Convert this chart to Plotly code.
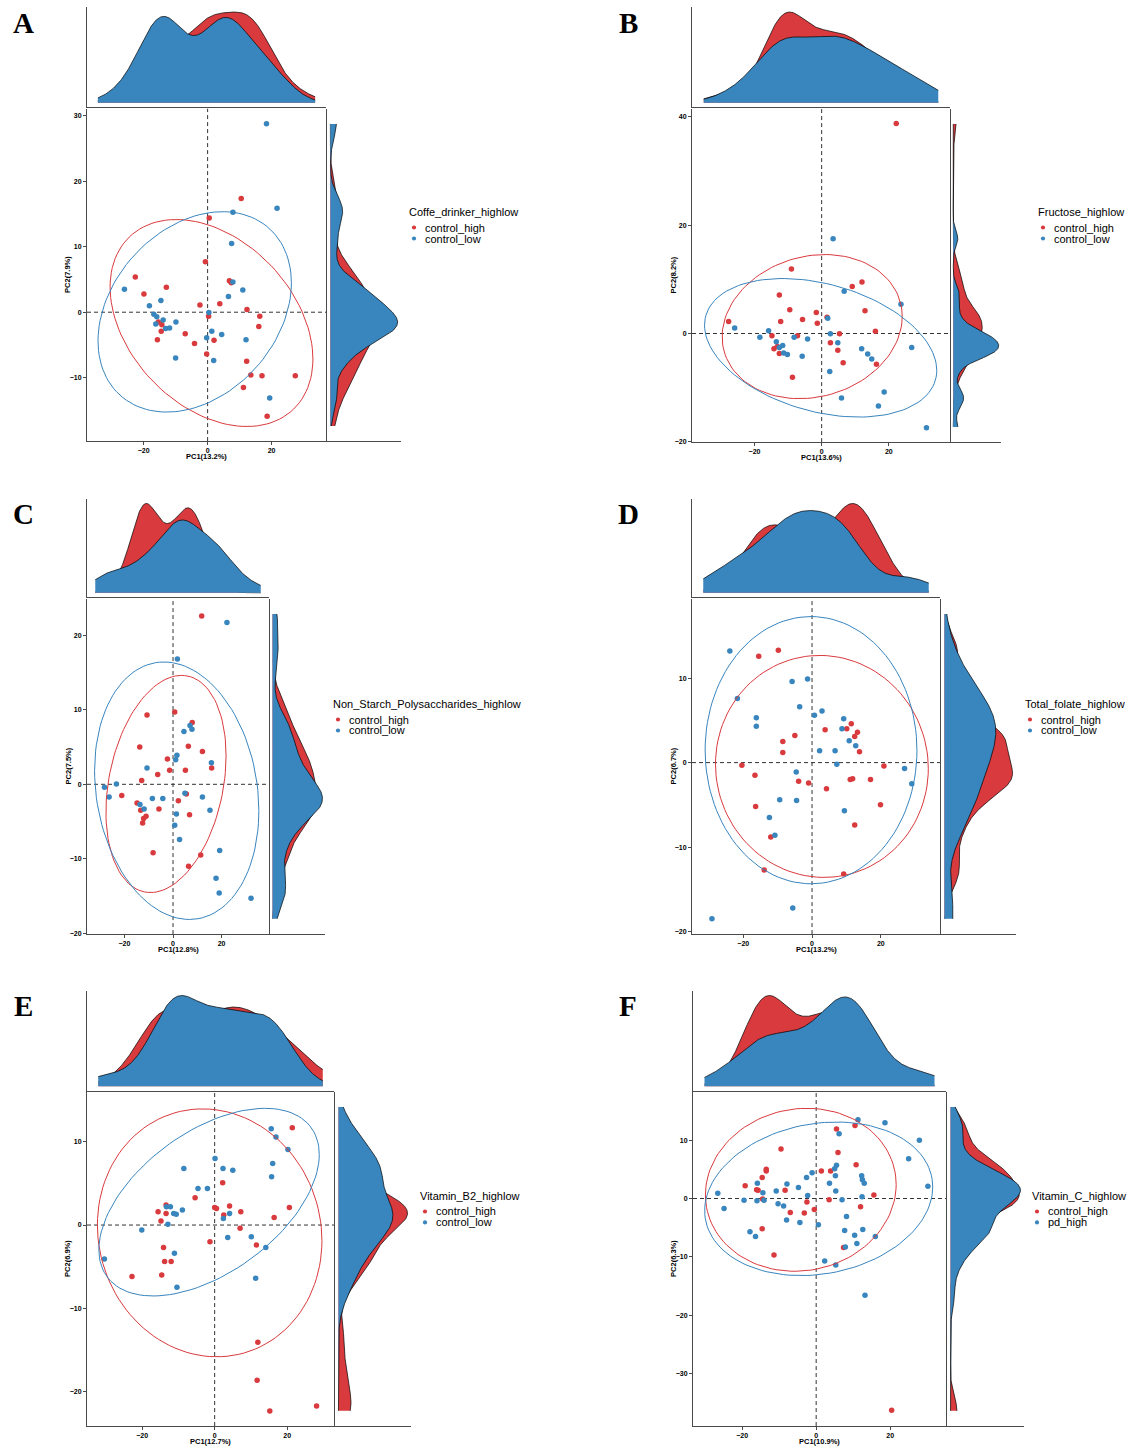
import numpy as np
import plotly.graph_objects as go

FIG_W, FIG_H = 1130, 1450
FONT = "Liberation Sans"
RED = "#D93A3D"
BLUE = "#3985BD"
AXIS_COLOR = "#4a4a4a"

# ---------------- Panel A ----------------
a_title = "Coffe_drinker_highlow"
a_groups = ["control_high", "control_low"]
a_xlabel = "PC1(13.2%)"
a_ylabel = "PC2(7.9%)"
a_xticks = [-20, 0, 20]
a_yticks = [-10, 0, 10, 20, 30]
a_g1_pc1 = [10.5, 0.5, -0.7, -22.6, -19.9, -12.9, 6.8, 7.4, -2.4, 3.8, 12.3, 16.3, 0.3, -15.4,
            -14.3, -14.5, -15.7, -7.0, -4.1, 2.0, 16.0, -0.3, 12.2, 13.5, 17.0, 27.4, 11.2, 18.6]
a_g1_pc2 = [17.4, 14.4, 7.7, 5.4, 2.8, 3.8, 4.8, 4.5, 1.1, 1.3, 0.4, -0.6, -0.6, -1.5,
            -1.9, -2.9, -4.2, -3.3, -4.8, -4.3, -2.2, -6.4, -7.5, -9.6, -9.7, -9.7, -11.5, -15.9]
a_g2_pc1 = [18.4, 21.7, 7.9, 7.5, 7.9, 11.0, 6.5, -26.0, -14.6, -18.2, -16.8, -15.9, -13.9,
            -16.2, -13.1, -11.9, -9.9, 0.4, 1.3, 4.4, -0.3, 12.0, -10.0, 1.9, 19.4]
a_g2_pc2 = [28.8, 15.9, 15.3, 10.5, 4.6, 3.4, 2.4, 3.5, 1.8, 1.0, -0.3, -0.7, -1.2,
            -1.8, -2.5, -2.4, -1.5, -0.05, -2.9, -3.4, -3.9, -4.2, -7.0, -7.4, -13.1]

# ---------------- Panel B ----------------
b_title = "Fructose_highlow"
b_groups = ["control_high", "control_low"]
b_xlabel = "PC1(13.6%)"
b_ylabel = "PC2(8.2%)"
b_xticks = [-20, 0, 20]
b_yticks = [-20, 0, 20, 40]
b_g1_pc1 = [22.2, -9.0, 9.1, 12.0, -12.6, -9.5, 12.9, -1.6, 1.6, -5.7, -1.3, -27.7, -12.2,
            16.0, 5.3, -14.8, -7.2, 2.6, -13.2, -14.2, -12.6, 4.8, 6.4, 16.3, -8.7]
b_g1_pc2 = [38.8, 11.9, 8.7, 9.5, 7.1, 4.4, 4.2, 3.9, 3.0, 2.6, 1.9, 2.2, 2.2,
            0.4, -0.06, -0.4, -0.4, -1.7, -2.4, -2.8, -3.7, -3.1, -5.4, -5.7, -8.1]
b_g2_pc1 = [3.4, 6.7, 23.6, 1.8, -25.9, -15.8, -18.4, -8.2, -4.2, 2.6, -13.5, -11.6, -12.6,
            -11.3, -10.2, 4.8, -5.8, 11.9, 13.7, 14.9, 26.8, 2.4, 18.6, 5.9, 16.9, 31.2]
b_g2_pc2 = [17.5, 7.8, 5.4, 2.8, 1.0, 0.5, -0.7, -0.7, -1.0, -0.06, -1.5, -2.2, -2.6,
            -3.6, -3.9, -1.7, -4.2, -2.8, -3.8, -4.7, -2.6, -7.0, -10.8, -11.9, -13.4, -17.4]

# ---------------- Panel C ----------------
c_title = "Non_Starch_Polysaccharides_highlow"
c_groups = ["control_high", "control_low"]
c_xlabel = "PC1(12.8%)"
c_ylabel = "PC2(7.5%)"
c_xticks = [-20, 0, 20]
c_yticks = [-20, -10, 0, 10, 20]
c_g1_pc1 = [11.8, -10.7, 0.7, 7.9, -13.7, 6.3, 12.1, -2.3, -1.4, 5.1, -6.3, 15.9, -12.9,
            -21.1, 5.5, -14.8, 2.2, -13.3, -5.8, -11.1, -12.1, -12.5, 6.8, -8.2, 11.4, 6.4]
c_g1_pc2 = [22.6, 9.3, 9.7, 8.3, 5.0, 5.1, 4.4, 3.4, 1.9, 1.9, 1.3, 2.2, 0.5,
            -1.5, -1.3, -2.5, -2.2, -3.5, -3.3, -4.3, -4.6, -5.2, -4.1, -9.2, -9.5, -11.0]
c_g2_pc1 = [22.2, 1.8, 7.0, 4.5, 7.8, 1.6, 1.1, -10.7, 15.8, -23.3, -28.2, -26.3, -8.5,
            -4.2, 4.9, 12.1, -13.6, -11.9, 1.4, 15.2, 0.7, 2.7, 19.2, 17.7, 19.0, 32.1]
c_g2_pc2 = [21.7, 16.8, 7.9, 7.1, 7.4, 3.9, 3.3, 2.2, 2.9, 0.04, -0.4, -1.7, -1.9,
            -1.9, -1.2, -1.7, -2.7, -3.3, -4.0, -3.5, -5.5, -7.4, -8.9, -12.6, -14.6, -15.3]

# ---------------- Panel D ----------------
d_title = "Total_folate_highlow"
d_groups = ["control_high", "control_low"]
d_xlabel = "PC1(13.2%)"
d_ylabel = "PC2(6.7%)"
d_xticks = [-20, 0, 20]
d_yticks = [-20, -10, 0, 10]
d_g1_pc1 = [-9.8, -15.5, 3.8, -5.0, -8.5, -8.5, 11.4, 10.1, 13.2, 12.4, 13.8, -20.4, -16.6,
            20.9, -3.9, -1.0, 11.1, 11.8, 17.0, 4.2, -16.4, 19.9, 12.4, -12.0, -13.9, 9.2]
d_g1_pc2 = [13.3, 12.6, 3.9, 3.2, 2.5, 1.2, 4.6, 4.0, 3.6, 3.1, 1.3, -0.3, -1.5,
            -0.4, -2.2, -2.4, -2.0, -1.9, -2.0, -3.1, -5.2, -5.0, -7.4, -8.8, -12.7, -13.2]
d_g2_pc1 = [-23.9, -5.8, -1.3, -21.7, -3.6, 0.7, 2.9, 9.2, -16.2, -16.2, 8.7, 10.8, 12.7,
            2.2, 6.7, 7.2, -4.6, 26.9, 29.0, -9.4, -4.5, 9.4, -12.4, -10.8, -5.6, -29.1]
d_g2_pc2 = [13.2, 9.6, 9.9, 7.6, 6.6, 5.6, 6.1, 5.2, 5.3, 4.3, 4.0, 2.6, 2.0,
            1.4, 1.4, -0.2, -1.1, -0.7, -2.5, -4.4, -4.5, -5.7, -6.5, -8.6, -17.2, -18.5]

# ---------------- Panel E ----------------
e_title = "Vitamin_B2_highlow"
e_groups = ["control_high", "control_low"]
e_xlabel = "PC1(12.7%)"
e_ylabel = "PC2(6.9%)"
e_xticks = [-20, 0, 20]
e_yticks = [-20, -10, 0, 10]
e_g1_pc1 = [21.4, 2.2, -5.4, 0.0, 0.5, 4.1, 2.5, 7.2, 20.6, 16.4, -15.6, -13.4, -13.4,
            -14.8, 7.0, -1.3, 11.5, -14.1, -13.8, -12.0, -14.6, -22.8, 11.9, 11.7, 15.2, 28.1]
e_g1_pc2 = [11.7, 5.1, 3.3, 2.1, 2.0, 2.3, 1.2, 1.6, 2.1, 0.9, 1.6, 2.4, 1.4,
            0.5, -0.4, -2.0, -2.4, -2.7, -4.4, -4.4, -6.0, -6.2, -14.1, -18.7, -22.4, -21.8]
e_g2_pc1 = [15.6, 16.9, 20.2, 0.1, 16.0, -8.5, 2.3, 5.0, 15.7, -4.6, -2.0, -13.3, -12.2, -8.9,
            -11.3, -10.6, 4.1, 2.4, -12.9, -20.1, 3.6, 10.1, 14.1, -11.1, -30.4, 11.3, -10.4]
e_g2_pc2 = [11.6, 10.6, 9.1, 8.0, 7.4, 6.8, 6.8, 6.6, 5.8, 4.4, 4.4, 2.2, 2.2, 1.8,
            1.4, 1.3, 1.4, 0.8, 0.1, -0.6, -1.5, -1.4, -2.7, -3.4, -4.1, -6.4, -7.5]

# ---------------- Panel F ----------------
f_title = "Vitamin_C_highlow"
f_groups = ["control_high", "pd_high"]
f_xlabel = "PC1(10.9%)"
f_ylabel = "PC2(6.3%)"
f_xticks = [-20, 0, 20]
f_yticks = [-30, -20, -10, 0, 10]
f_g1_pc1 = [10.5, 5.5, 5.9, -9.5, 10.8, -13.5, -13.5, 1.4, 3.9, -14.6, -19.2, -16.1, -15.7,
            -8.4, 15.6, -14.5, 3.5, -2.5, 12.0, -0.5, -7.0, -3.2, -14.6, 7.4, -11.4, 20.4]
f_g1_pc2 = [12.5, 11.9, 7.9, 8.5, 5.8, 5.0, 4.7, 4.7, 4.7, 3.6, 2.2, 1.5, 1.4,
            1.4, 0.6, -0.1, -0.2, -0.6, -1.4, -1.9, -2.4, -2.5, -5.2, -8.4, -9.7, -36.3]
f_g2_pc1 = [11.3, 18.6, 6.2, 27.9, 25.0, 5.5, 5.0, -1.1, -2.6, 5.2, 12.3, 12.5, 13.0, 3.6,
            -15.9, -7.9, -4.8, 30.2, -10.8, -14.4, 5.3, -26.6, -2.3, 12.4, -19.5, -16.0, -14.1,
            7.0, -24.9, -10.3, -8.8, 8.2, -8.0, -4.4, 0.6, -17.9, -16.4, 7.7, 10.4, 12.6, 11.0,
            16.0, 7.9, 2.3, 5.3, 13.2]
f_g2_pc2 = [13.5, 13.0, 11.1, 10.0, 6.8, 5.7, 5.1, 4.4, 3.6, 3.9, 3.9, 3.2, 2.6, 2.6,
            2.6, 2.5, 1.9, 2.1, 1.3, 1.0, 1.3, 0.9, 0.5, 0.3, -0.3, -0.4, -0.3,
            -0.2, -1.7, -0.9, -1.3, -3.1, -3.7, -4.1, -4.5, -5.7, -6.5, -5.5, -6.3, -5.3, -7.7,
            -6.5, -8.3, -10.7, -11.4, -16.6]

# ---------------- geometry (pixels) ----------------
panels = [
    dict(letter="A", title=a_title, groups=a_groups, xlabel=a_xlabel, ylabel=a_ylabel,
         xticks=a_xticks, yticks=a_yticks, g1=(a_g1_pc1, a_g1_pc2), g2=(a_g2_pc1, a_g2_pc2),
         lpos=(23, 23), mx=(87, 326), my=(109, 442), xr=(-37.7, 37.0), yr=(-19.7, 31.1),
         ty=(7.5, 107.5), rx=(327, 401), leg=(409, 212)),
    dict(letter="B", title=b_title, groups=b_groups, xlabel=b_xlabel, ylabel=b_ylabel,
         xticks=b_xticks, yticks=b_yticks, g1=(b_g1_pc1, b_g1_pc2), g2=(b_g2_pc1, b_g2_pc2),
         lpos=(628, 23), mx=(692, 950), my=(109, 443), xr=(-38.6, 38.2), yr=(-20.05, 41.5),
         ty=(7.5, 107.5), rx=(951, 1001), leg=(1038, 212)),
    dict(letter="C", title=c_title, groups=c_groups, xlabel=c_xlabel, ylabel=c_ylabel,
         xticks=c_xticks, yticks=c_yticks, g1=(c_g1_pc1, c_g1_pc2), g2=(c_g2_pc1, c_g2_pc2),
         lpos=(23, 515), mx=(87, 269), my=(600, 936), xr=(-35.4, 39.5), yr=(-20.1, 24.9),
         ty=(500, 598.5), rx=(270, 325), leg=(333, 705)),
    dict(letter="D", title=d_title, groups=d_groups, xlabel=d_xlabel, ylabel=d_ylabel,
         xticks=d_xticks, yticks=d_yticks, g1=(d_g1_pc1, d_g1_pc2), g2=(d_g2_pc1, d_g2_pc2),
         lpos=(628, 515), mx=(692, 940), my=(600, 936), xr=(-34.9, 37.2), yr=(-20.3, 19.4),
         ty=(500, 598.5), rx=(941, 1016), leg=(1025, 705)),
    dict(letter="E", title=e_title, groups=e_groups, xlabel=e_xlabel, ylabel=e_ylabel,
         xticks=e_xticks, yticks=e_yticks, g1=(e_g1_pc1, e_g1_pc2), g2=(e_g2_pc1, e_g2_pc2),
         lpos=(23, 1008), mx=(87, 334), my=(1094, 1429), xr=(-35.2, 32.9), yr=(-24.2, 16.05),
         ty=(993, 1093), rx=(335, 411), leg=(420, 1198)),
    dict(letter="F", title=f_title, groups=f_groups, xlabel=f_xlabel, ylabel=f_ylabel,
         xticks=f_xticks, yticks=f_yticks, g1=(f_g1_pc1, f_g1_pc2), g2=(f_g2_pc1, f_g2_pc2),
         lpos=(628, 1008), mx=(693, 946), my=(1094, 1429), xr=(-33.3, 35.1), yr=(-39.0, 18.3),
         ty=(993, 1093), rx=(947, 1024), leg=(1032, 1198)),
]


# ---------------- statistics (as in ggplot stat_ellipse / stat_density) ----------------
def cov_trob(X, nu=5, maxit=25, tol=0.01):
    n, p = X.shape
    wt = np.ones(n)
    loc = X.mean(0)
    w = np.sqrt(wt)
    Xc = X - loc
    for _ in range(maxit):
        w0 = w
        Xc = X - loc
        sw = np.sqrt(w / w.sum())
        _, d, Vt = np.linalg.svd(sw[:, None] * Xc, full_matrices=False)
        wX = Xc @ Vt.T @ np.diag(1.0 / d)
        Q = (wX ** 2).sum(1)
        w = (wt * (nu + p)) / (nu + Q)
        loc = (w[:, None] * X).sum(0) / w.sum()
        if np.all(np.abs(w - w0) < tol):
            break
    sX = np.sqrt(w)[:, None] * Xc
    cov = sX.T @ sX / wt.sum()
    return loc, cov


def stat_ellipse(px, py, level=0.95, segments=120):
    X = np.column_stack([px, py]).astype(float)
    n = len(X)
    center, cov = cov_trob(X)
    dfd = n - 1
    fq = dfd / 2.0 * ((1 - level) ** (-2.0 / dfd) - 1.0)
    radius = np.sqrt(2 * fq)
    R = np.linalg.cholesky(cov).T
    ang = np.linspace(0, 2 * np.pi, segments + 1)
    circ = np.column_stack([np.cos(ang), np.sin(ang)])
    pts = center + radius * (circ @ R)
    return pts[:, 0], pts[:, 1]


def bw_nrd0(x):
    x = np.asarray(x, float)
    hi = np.std(x, ddof=1)
    q75, q25 = np.percentile(x, [75, 25])
    lo = min(hi, (q75 - q25) / 1.34)
    if lo <= 0:
        lo = hi if hi > 0 else 1.0
    return 0.9 * lo * len(x) ** (-0.2)


def kde(x, grid):
    x = np.asarray(x, float)
    h = bw_nrd0(x)
    z = (grid[:, None] - x[None, :]) / h
    return np.exp(-0.5 * z * z).sum(1) / (len(x) * h * np.sqrt(2 * np.pi))


def unexpand(r):
    wdt = (r[1] - r[0]) / 1.1
    return r[0] + 0.05 * wdt, r[1] - 0.05 * wdt


# ---------------- build figure ----------------
fig = go.Figure()
layout = {}
shapes = []
annotations = []


def sfx(i):
    return "" if i == 1 else str(i)


def xd(a, b):
    return [a / FIG_W, b / FIG_W]


def yd(a, b):
    return [1 - b / FIG_H, 1 - a / FIG_H]


plain_axis = dict(showline=True, linecolor=AXIS_COLOR, linewidth=1, showgrid=False,
                  zeroline=False, ticks="", showticklabels=False, fixedrange=True)

for k, P in enumerate(panels):
    im, it, ir = 3 * k + 1, 3 * k + 2, 3 * k + 3
    cols = [RED, BLUE]
    data = [P["g1"], P["g2"]]

    # ---- main axes ----
    tickstyle = dict(showline=True, linecolor=AXIS_COLOR, linewidth=1, showgrid=False,
                     zeroline=False, ticks="outside", ticklen=3, tickwidth=1,
                     tickcolor=AXIS_COLOR,
                     tickfont=dict(family=FONT, size=7, color="black", weight="bold"))
    layout["xaxis" + sfx(im)] = dict(domain=xd(*P["mx"]), range=list(P["xr"]),
                                     anchor="y" + sfx(im), tickvals=P["xticks"], **tickstyle)
    layout["yaxis" + sfx(im)] = dict(domain=yd(*P["my"]), range=list(P["yr"]),
                                     anchor="x" + sfx(im), tickvals=P["yticks"], **tickstyle)

    # dashed zero lines
    shapes.append(dict(type="line", xref="x" + sfx(im), yref="y" + sfx(im) + " domain",
                       x0=0, x1=0, y0=0, y1=1, layer="below",
                       line=dict(color="#333333", width=1, dash="4px,3px")))
    shapes.append(dict(type="line", xref="x" + sfx(im) + " domain", yref="y" + sfx(im),
                       x0=0, x1=1, y0=0, y1=0, layer="below",
                       line=dict(color="#333333", width=1, dash="4px,3px")))

    # points + ellipses
    for (gx, gy), col, name in zip(data, cols, P["groups"]):
        fig.add_trace(go.Scatter(x=gx, y=gy, mode="markers", name=name, showlegend=False,
                                 marker=dict(color=col, size=5.5, line=dict(width=0)),
                                 xaxis="x" + sfx(im), yaxis="y" + sfx(im)))
    for (gx, gy), col in zip(data, cols):
        ex, ey = stat_ellipse(gx, gy)
        fig.add_trace(go.Scatter(x=ex, y=ey, mode="lines", showlegend=False, hoverinfo="skip",
                                 line=dict(color=col, width=1),
                                 xaxis="x" + sfx(im), yaxis="y" + sfx(im)))

    # ---- top marginal density (PC1) ----
    lo, hi = unexpand(P["xr"])
    gridx = np.linspace(lo, hi, 512)
    dx = [kde(g[0], gridx) for g in data]
    mxd = max(d.max() for d in dx)
    layout["xaxis" + sfx(it)] = dict(domain=xd(*P["mx"]), range=list(P["xr"]),
                                     anchor="y" + sfx(it), **plain_axis)
    layout["yaxis" + sfx(it)] = dict(domain=yd(*P["ty"]), range=[-0.05 * mxd, 1.05 * mxd],
                                     anchor="x" + sfx(it), **plain_axis)
    for d, col in zip(dx, cols):
        fig.add_trace(go.Scatter(x=gridx, y=d, mode="lines", fill="tozeroy", fillcolor=col,
                                 line=dict(color="black", width=0.7), showlegend=False,
                                 hoverinfo="skip", xaxis="x" + sfx(it), yaxis="y" + sfx(it)))

    # ---- right marginal density (PC2) ----
    lo, hi = unexpand(P["yr"])
    gridy = np.linspace(lo, hi, 512)
    dy = [kde(g[1], gridy) for g in data]
    myd = max(d.max() for d in dy)
    layout["xaxis" + sfx(ir)] = dict(domain=xd(*P["rx"]), range=[-0.05 * myd, 1.05 * myd],
                                     anchor="y" + sfx(ir), **plain_axis)
    layout["yaxis" + sfx(ir)] = dict(domain=yd(*P["my"]), range=list(P["yr"]),
                                     anchor="x" + sfx(ir), **plain_axis)
    for d, col in zip(dy, cols):
        fig.add_trace(go.Scatter(x=d, y=gridy, mode="lines", fill="tozerox", fillcolor=col,
                                 line=dict(color="black", width=0.7), showlegend=False,
                                 hoverinfo="skip", xaxis="x" + sfx(ir), yaxis="y" + sfx(ir)))

    # ---- texts ----
    mxc = (P["mx"][0] + P["mx"][1]) / 2
    myc = (P["my"][0] + P["my"][1]) / 2
    annotations.append(dict(text=P["xlabel"], x=mxc / FIG_W, y=1 - (P["my"][1] + 15.5) / FIG_H,
                            xref="paper", yref="paper", showarrow=False, xanchor="center",
                            yanchor="middle",
                            font=dict(family=FONT, size=7.5, color="black", weight="bold")))
    annotations.append(dict(text=P["ylabel"], x=(P["mx"][0] - 19) / FIG_W, y=1 - myc / FIG_H,
                            xref="paper", yref="paper", showarrow=False, xanchor="center",
                            yanchor="middle", textangle=-90,
                            font=dict(family=FONT, size=7.5, color="black", weight="bold")))
    annotations.append(dict(text=P["letter"], x=P["lpos"][0] / FIG_W, y=1 - P["lpos"][1] / FIG_H,
                            xref="paper", yref="paper", showarrow=False, xanchor="center",
                            yanchor="middle",
                            font=dict(family="Liberation Serif", size=29, color="black",
                                      weight="bold")))

    # ---- legend (drawn manually) ----
    lx, ly = P["leg"]
    annotations.append(dict(text=P["title"], x=(lx - 2) / FIG_W, y=1 - ly / FIG_H,
                            xref="paper", yref="paper", showarrow=False, xanchor="left",
                            yanchor="middle", font=dict(family=FONT, size=11, color="black")))
    for j, (name, col) in enumerate(zip(P["groups"], cols)):
        cy = ly + 16 + j * 11
        cx = lx + 5
        shapes.append(dict(type="circle", xref="paper", yref="paper",
                           x0=(cx - 2.1) / FIG_W, x1=(cx + 2.1) / FIG_W,
                           y0=1 - (cy + 2.1) / FIG_H, y1=1 - (cy - 2.1) / FIG_H,
                           fillcolor=col, line=dict(width=0)))
        annotations.append(dict(text=name, x=(lx + 14) / FIG_W, y=1 - cy / FIG_H,
                                xref="paper", yref="paper", showarrow=False, xanchor="left",
                                yanchor="middle", font=dict(family=FONT, size=11, color="black")))

fig.update_layout(**layout)
fig.update_layout(width=FIG_W, height=FIG_H, autosize=False,
                  margin=dict(l=0, r=0, t=0, b=0, pad=0),
                  paper_bgcolor="white", plot_bgcolor="white",
                  showlegend=False, shapes=shapes, annotations=annotations,
                  font=dict(family=FONT))

fig.write_html("out.html")
